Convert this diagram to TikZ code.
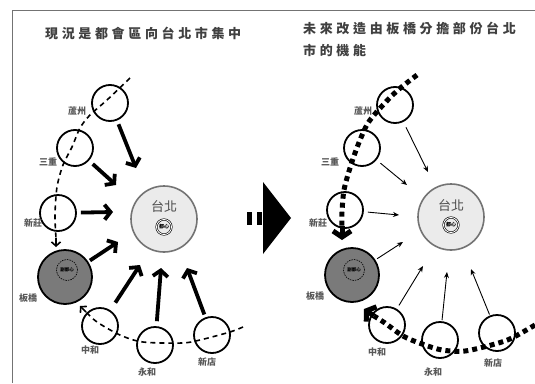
\documentclass[tikz,border=0pt]{standalone}
\usepackage{fontspec}
\newfontfamily\cjk{Noto Sans CJK TC}
\newfontfamily\cjktitle{Noto Sans CJK TC}[LetterSpace=28]
\usetikzlibrary{arrows.meta}
\begin{document}
\begin{tikzpicture}[x=1pt,y=-1pt,
  town/.style={circle, draw=black, line width=1.8pt, minimum size=36pt, inner sep=0pt},
  lbl/.style={font=\cjk\fontsize{9}{10}\selectfont\bfseries, text=black!65, inner sep=0pt},
  bigc/.style={circle, draw=black!55, line width=1.6pt, fill=black!8, minimum size=66pt, inner sep=0pt},
  subc/.style={circle, draw=black, line width=1.8pt, fill=black!52, minimum size=54pt, inner sep=0pt},
  core/.style={circle, draw=black, line width=0.6pt, double, double distance=0.9pt, minimum size=15pt, inner sep=0pt, font=\cjk\fontsize{5}{5}\selectfont\bfseries},
  subcore/.style={circle, draw=black, line width=0.6pt, dash pattern=on 1.5pt off 1pt, minimum size=21pt, inner sep=0pt, font=\cjk\fontsize{4.5}{5}\selectfont\bfseries},
  cityname/.style={font=\cjk\fontsize{13}{14}\selectfont, text=black!70, inner sep=0pt},
  ttl/.style={font=\cjktitle\fontsize{13}{15}\selectfont\bfseries, text=black!75, inner sep=0pt, anchor=west},
  thickarr/.style={line width=3.8pt, -{Straight Barb[length=6pt,width=15pt]}},
  thinarr/.style={line width=0.9pt, -{Stealth[length=6pt,width=5pt]}},
  dashpath/.style={line width=1.6pt, dash pattern=on 5pt off 4pt},
  dotpath/.style={line width=5pt, dash pattern=on 5pt off 4pt}]
\useasboundingbox (0,0) rectangle (535,383);
\fill[white] (0,0) rectangle (535,383);
% frame
\draw[black!55, line width=1pt] (12,383) -- (12,10) -- (535,10);
% titles
\node[ttl] (t1) at (45,33) {現況是都會區向台北市集中};
\node[ttl] (t2) at (303,28) {未來改造由板橋分擔部份台北};
\node[ttl] (t3) at (303,51) {市的機能};

% ===== left panel =====
\draw[dashpath] plot[smooth] coordinates {(130,78) (107,100) (90,115) (80,128) (72,147) (63,165) (57,187) (55,215) (56,238)};
\draw[line width=1.6pt, -{Straight Barb[length=4pt,width=9pt]}] (56,238) -- (56,247);
\draw[dashpath] plot[smooth] coordinates {(243,327) (230,332) (200,340) (182,343) (143,342) (120,335) (97,322) (86,312)};
\draw[line width=1.6pt, -{Straight Barb[length=4pt,width=9pt]}] (86,312) -- (80,306);

\node[bigc] (tp) at (164,219) {};
\node[cityname] (tpn) at (164,207) {台北};
\node[core] (tpc) at (164,227) {都心};

\node[town] (lz) at (110,103) {};
\node[lbl] (llz) at (77,111) {蘆州};
\node[town] (sc) at (75,148) {};
\node[lbl] (lsc) at (48,162) {三重};
\node[town] (xz) at (58,213) {};
\node[lbl] (lxz) at (33,223) {新莊};
\node[subc] (bq) at (65,277) {};
\node[subcore] (bqc) at (67,270) {副都心};
\node[lbl] (lbq) at (28,298) {板橋};
\node[town] (zh) at (100,326) {};
\node[lbl] (lzh) at (90,350) {中和};
\node[town] (yh) at (155,345) {};
\node[lbl] (lyh) at (147,372) {永和};
\node[town] (xd) at (212,335) {};
\node[lbl] (lxd) at (207,362) {新店};

\coordinate (e1) at (136,168);
\coordinate (e2) at (116,185);
\coordinate (e3) at (113,212);
\coordinate (e4) at (118,242);
\coordinate (e5) at (140,265);
\coordinate (e6) at (161,268);
\coordinate (e7) at (187,268);
\draw[thickarr, shorten <=4pt] (lz) -- (e1);
\draw[thickarr, shorten <=5pt] (sc) -- (e2);
\draw[thickarr, shorten <=4pt] (xz) -- (e3);
\draw[thickarr, shorten <=2pt] (bq) -- (e4);
\draw[thickarr, shorten <=9pt] (zh) -- (e5);
\draw[thickarr, shorten <=5pt] (yh) -- (e6);
\draw[thickarr, shorten <=3pt] (xd) -- (e7);

% ===== centre arrow =====
\fill[black] (263,182) -- (291,218) -- (263,254) -- cycle;
\fill[black] (247,212) rectangle (252,225);
\fill[black] (257,212) rectangle (262,225);

% ===== right panel =====
\draw[dotpath] plot[smooth] coordinates {(417,75) (398,90) (383,105) (368,123) (358,145) (350,168) (344,190) (342,212) (342,226)};
\draw[line width=5pt, -{Straight Barb[length=6pt,width=18pt]}] (342,226) -- (342,240);
\draw[dotpath] plot[smooth] coordinates {(535,325) (512,338) (495,344) (465,351) (442,350) (422,344) (403,336) (385,323) (374,316)};
\draw[line width=5pt, -{Straight Barb[length=6pt,width=18pt]}] (374,316) -- (364,309);

\node[bigc] (tp2) at (451,217) {};
\node[cityname] (tpn2) at (451,206) {台北};
\node[core] (tpc2) at (451,225) {都心};

\node[town] (lz2) at (395,105) {};
\node[lbl] (llz2) at (363,111) {蘆州};
\node[town] (sc2) at (362,148) {};
\node[lbl] (lsc2) at (330,162) {三重};
\node[town] (xz2) at (345,210) {};
\node[lbl] (lxz2) at (318,223) {新莊};
\node[subc] (bq2) at (352,275) {};
\node[subcore] (bqc2) at (354,270) {副都心};
\node[lbl] (lbq2) at (315,296) {板橋};
\node[town] (zh2) at (387,325) {};
\node[lbl] (lzh2) at (377,352) {中和};
\node[town] (yh2) at (440,340) {};
\node[lbl] (lyh2) at (433,372) {永和};
\node[town] (xd2) at (497,333) {};
\node[lbl] (lxd2) at (493,363) {新店};

\coordinate (f1) at (428,172);
\coordinate (f2) at (407,185);
\coordinate (f3) at (399,215);
\coordinate (f4) at (403,242);
\coordinate (f5) at (423,266);
\coordinate (f6) at (447,272);
\coordinate (f7) at (471,269);
\draw[thinarr, shorten <=6pt] (lz2) -- (f1);
\draw[thinarr, shorten <=5pt] (sc2) -- (f2);
\draw[thinarr, shorten <=4pt] (xz2) -- (f3);
\draw[thinarr, shorten <=2pt] (bq2) -- (f4);
\draw[thinarr, shorten <=4pt] (zh2) -- (f5);
\draw[thinarr, shorten <=1pt] (yh2) -- (f6);
\draw[thinarr, shorten <=1pt] (xd2) -- (f7);
\end{tikzpicture}
\end{document}
